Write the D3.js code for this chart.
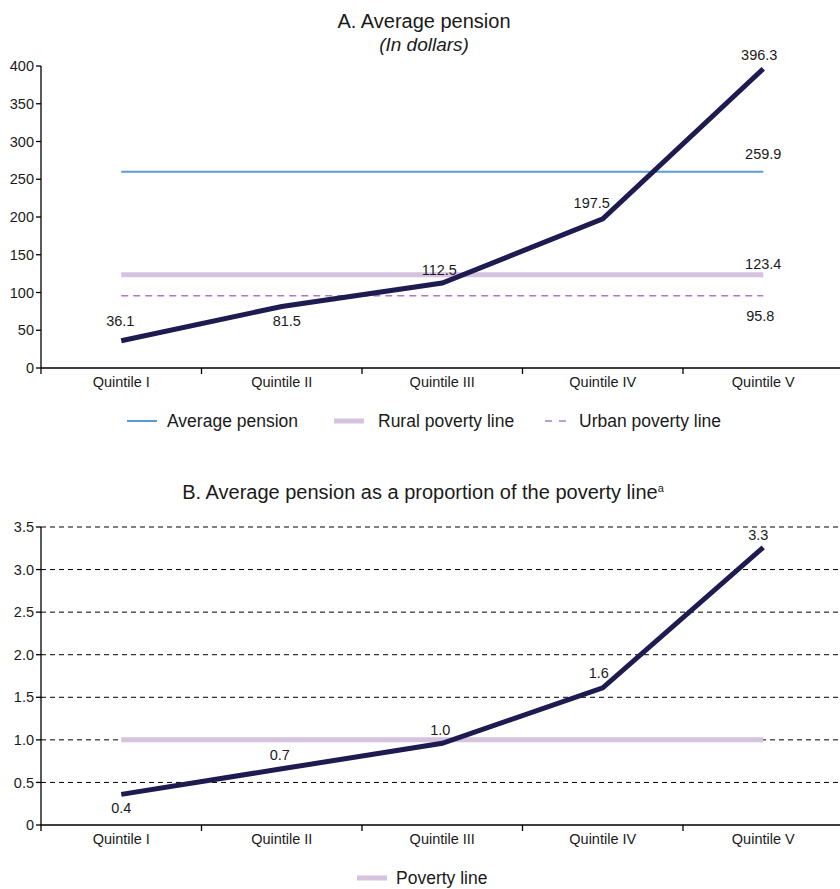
<!DOCTYPE html>
<html>
<head>
<meta charset="utf-8">
<script src="https://cdn.jsdelivr.net/npm/d3@7/dist/d3.min.js"></script>
<style>
  html, body { margin: 0; padding: 0; background: #fff; }
  svg { display: block; font-family: "Liberation Sans", Arial, sans-serif; }
</style>
</head>
<body>
<svg id="chart" width="840" height="889"></svg>
<script>
// Income quintiles
const quintiles = ["Quintile I", "Quintile II", "Quintile III", "Quintile IV", "Quintile V"];

// Panel A: pension by quintile and reference lines (dollars)
const pensionByQuintile = [36.1, 81.5, 112.5, 197.5, 396.3];
const averagePension = 259.9;
const ruralPovertyLine = 123.4;
const urbanPovertyLine = 95.8;
const ticksA = [0, 50, 100, 150, 200, 250, 300, 350, 400];

// Panel B: pension as a multiple of the poverty line
const ratioByQuintile = [0.36, 0.66, 0.96, 1.61, 3.26];
const povertyLine = 1.0;
const ticksB = [0, 0.5, 1.0, 1.5, 2.0, 2.5, 3.0, 3.5];

const NAVY = "#1d1b4f", BLUE = "#5b9bd5", LILAC = "#d5c2df", PURPLE = "#b07cc8";
const SMALL = 14.5, LEGEND = 17.5, TITLE = 20;

const svg = d3.select("#chart");

const x = d3.scaleBand().domain(quintiles).range([41, 843.5]).paddingInner(0).paddingOuter(0);
const cx = d => x(d) + x.bandwidth() / 2;

function xAxis(g, y0) {
  g.append("line").attr("x1", 41).attr("x2", 840).attr("y1", y0).attr("y2", y0)
    .attr("stroke", "#000").attr("stroke-width", 1.3);
  quintiles.forEach(q => {
    g.append("line").attr("x1", x(q)).attr("x2", x(q))
      .attr("y1", y0).attr("y2", y0 + 6)
      .attr("stroke", "#000").attr("stroke-width", 1.3);
    g.append("text").attr("x", cx(q)).attr("y", y0 + 19)
      .attr("text-anchor", "middle").attr("font-size", SMALL).attr("fill", "#1a1a1a").text(q);
  });
}

function yAxis(g, y, ticks, fmt) {
  g.append("line").attr("x1", 41).attr("x2", 41)
    .attr("y1", y(ticks[ticks.length - 1])).attr("y2", y(0))
    .attr("stroke", "#000").attr("stroke-width", 1.3);
  ticks.forEach(t => {
    g.append("line").attr("x1", 36).attr("x2", 41).attr("y1", y(t)).attr("y2", y(t))
      .attr("stroke", "#000").attr("stroke-width", 1.3);
    g.append("text").attr("x", 34).attr("y", y(t)).attr("dy", "0.35em")
      .attr("text-anchor", "end").attr("font-size", SMALL).attr("fill", "#1a1a1a").text(fmt(t));
  });
}

function hLine(g, y, v, color, width, dash) {
  const l = g.append("line")
    .attr("x1", cx(quintiles[0])).attr("x2", cx(quintiles[quintiles.length - 1]))
    .attr("y1", y(v)).attr("y2", y(v))
    .attr("stroke", color).attr("stroke-width", width);
  if (dash) l.attr("stroke-dasharray", dash);
}

function label(g, px, py, txt) {
  g.append("text").attr("x", px).attr("y", py).attr("text-anchor", "middle")
    .attr("font-size", SMALL).attr("fill", "#1a1a1a").text(txt);
}

// ---------- Panel A ----------
const gA = svg.append("g");
const yA = d3.scaleLinear().domain([0, 400]).range([368, 66]);

gA.append("text").attr("x", 424).attr("y", 28).attr("text-anchor", "middle")
  .attr("font-size", TITLE).attr("fill", "#1a1a1a").text("A. Average pension");
gA.append("text").attr("x", 424).attr("y", 51).attr("text-anchor", "middle")
  .attr("font-size", TITLE - 1).attr("font-style", "italic").attr("fill", "#1a1a1a").text("(In dollars)");

yAxis(gA, yA, ticksA, d3.format("d"));

hLine(gA, yA, averagePension, BLUE, 2);
hLine(gA, yA, ruralPovertyLine, LILAC, 5);
hLine(gA, yA, urbanPovertyLine, PURPLE, 1.5, "7,5");

gA.append("path")
  .datum(pensionByQuintile)
  .attr("fill", "none").attr("stroke", NAVY).attr("stroke-width", 5)
  .attr("d", d3.line().x((d, i) => cx(quintiles[i])).y(d => yA(d)));

xAxis(gA, 368);

const fA = d3.format(".1f");
const offA = [[-1, -15], [5, 20], [-3, -8], [-11, -11], [-4, -9]];
pensionByQuintile.forEach((v, i) => {
  label(gA, cx(quintiles[i]) + offA[i][0], yA(v) + offA[i][1], fA(v));
});
const last = cx(quintiles[quintiles.length - 1]);
label(gA, last, yA(averagePension) - 13, fA(averagePension));
label(gA, last, yA(ruralPovertyLine) - 6, fA(ruralPovertyLine));
label(gA, last - 3, yA(urbanPovertyLine) + 25, fA(urbanPovertyLine));

// Legend A
const legA = gA.append("g");
const legItems = [
  { name: "Average pension", color: BLUE, w: 2, dash: null, x0: 127, x1: 157, tx: 167 },
  { name: "Rural poverty line", color: LILAC, w: 5, dash: null, x0: 334, x1: 364, tx: 378 },
  { name: "Urban poverty line", color: PURPLE, w: 1.5, dash: "7,7", x0: 545, x1: 569, tx: 579 }
];
legItems.forEach(it => {
  const l = legA.append("line").attr("x1", it.x0).attr("x2", it.x1).attr("y1", 421).attr("y2", 421)
    .attr("stroke", it.color).attr("stroke-width", it.w);
  if (it.dash) l.attr("stroke-dasharray", it.dash);
  legA.append("text").attr("x", it.tx).attr("y", 421).attr("dy", "0.35em")
    .attr("font-size", LEGEND).attr("fill", "#1a1a1a").text(it.name);
});

// ---------- Panel B ----------
const gB = svg.append("g");
const yB = d3.scaleLinear().domain([0, 3.5]).range([825, 527]);

const tB = gB.append("text").attr("x", 423).attr("y", 499).attr("text-anchor", "middle")
  .attr("font-size", TITLE).attr("fill", "#1a1a1a");
tB.append("tspan").text("B. Average pension as a proportion of the poverty line");
tB.append("tspan").attr("font-size", 11).attr("dy", -7).text("a");

// dashed gridlines
ticksB.filter(t => t > 0).forEach(t => {
  gB.append("line").attr("x1", 41).attr("x2", 840).attr("y1", yB(t)).attr("y2", yB(t))
    .attr("stroke", "#000").attr("stroke-width", 1).attr("stroke-dasharray", "5,4");
});

yAxis(gB, yB, ticksB, d => d === 0 ? "0" : d3.format(".1f")(d));

hLine(gB, yB, povertyLine, LILAC, 5);

gB.append("path")
  .datum(ratioByQuintile)
  .attr("fill", "none").attr("stroke", NAVY).attr("stroke-width", 5)
  .attr("d", d3.line().x((d, i) => cx(quintiles[i])).y(d => yB(d)));

xAxis(gB, 825);

const offB = [[0, 19], [-2, -9], [-2, -8], [-4, -10], [-5, -7]];
ratioByQuintile.forEach((v, i) => {
  label(gB, cx(quintiles[i]) + offB[i][0], yB(v) + offB[i][1], fA(v));
});

// Legend B
gB.append("line").attr("x1", 357).attr("x2", 387).attr("y1", 878).attr("y2", 878)
  .attr("stroke", LILAC).attr("stroke-width", 5);
gB.append("text").attr("x", 396).attr("y", 878).attr("dy", "0.35em")
  .attr("font-size", LEGEND).attr("fill", "#1a1a1a").text("Poverty line");
</script>
</body>
</html>
